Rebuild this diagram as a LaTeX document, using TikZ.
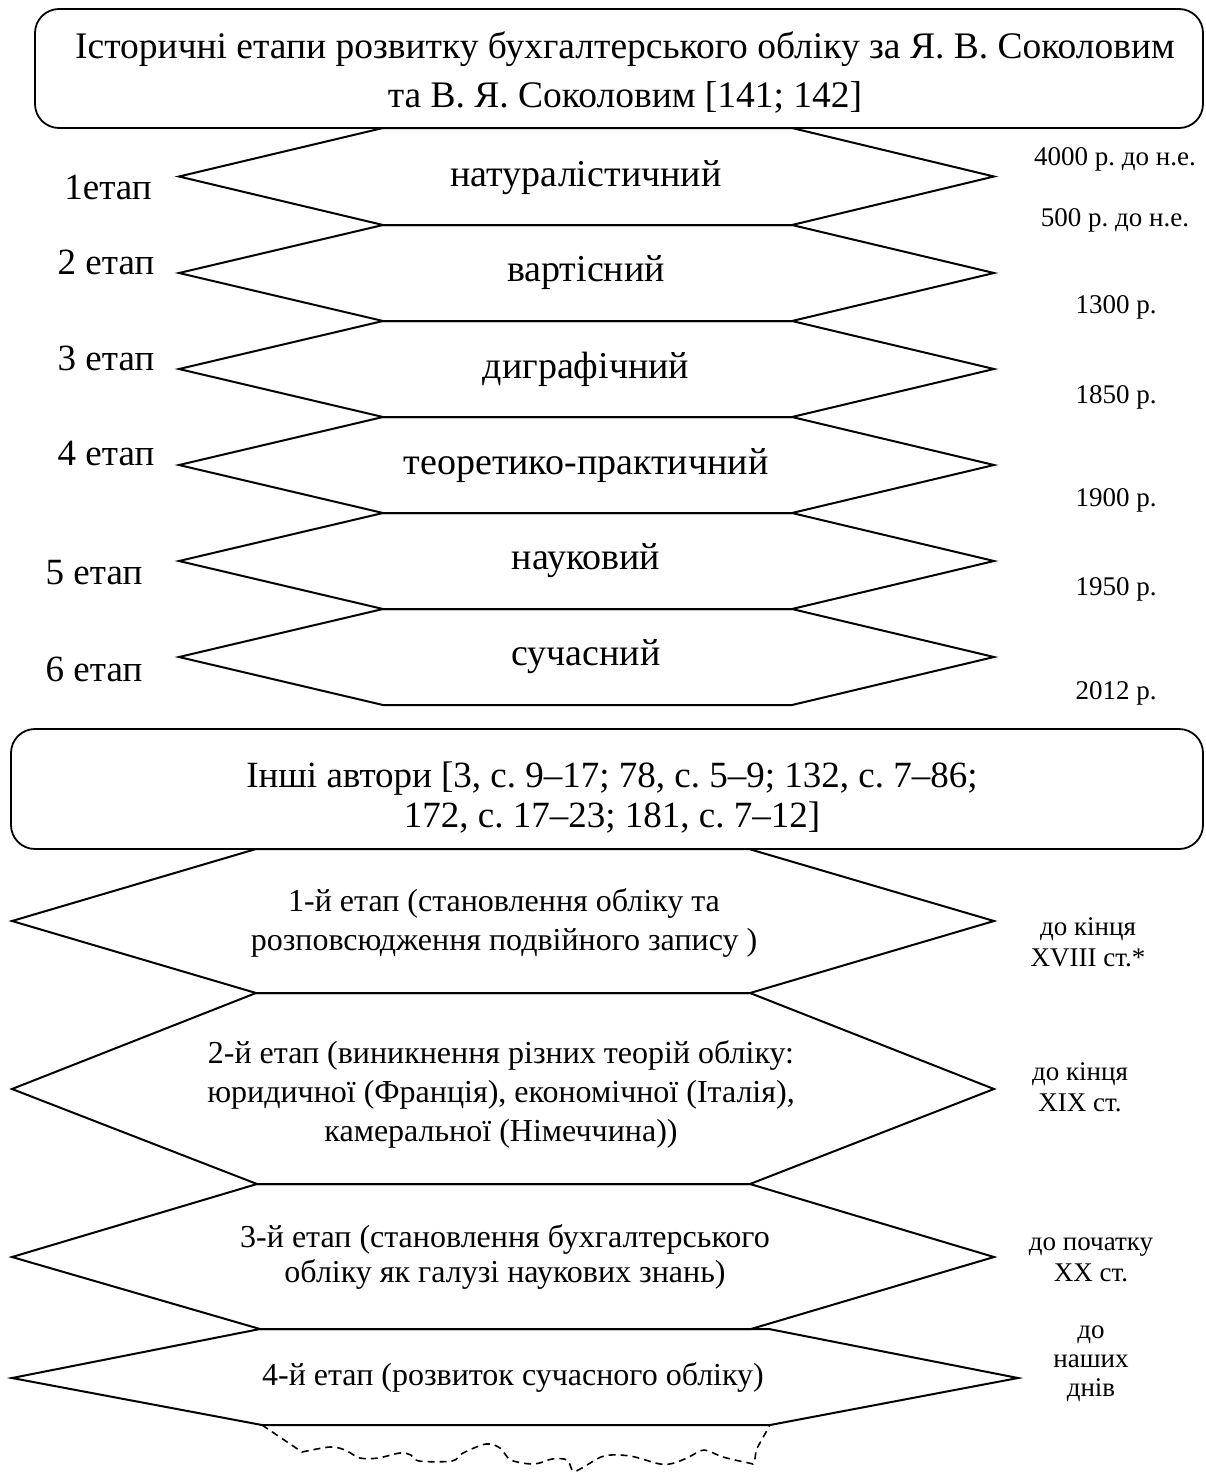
\documentclass[tikz,border=0pt]{standalone}
\usepackage{fontspec}
\setmainfont{Liberation Serif}
\frenchspacing
\begin{document}
\begin{tikzpicture}[x=1pt,y=-1pt,
  hexline/.style={draw, line width=2pt, line join=miter},
  roundbox/.style={draw, line width=1.8pt, rounded corners=24pt, inner sep=0pt},
  titletext/.style={inner sep=0pt, align=center, font=\fontsize{37.5}{49}\selectfont},
  stagetext/.style={inner sep=0pt, font=\fontsize{38}{44}\selectfont},
  etaptext/.style={inner sep=0pt, font=\fontsize{37}{44}\selectfont},
  datetext/.style={inner sep=0pt, font=\fontsize{27}{31}\selectfont},
  lowtext/.style={inner sep=0pt, align=center, font=\fontsize{32}{39}\selectfont},
  sidetext/.style={inner sep=0pt, align=center, font=\fontsize{27}{31}\selectfont},
  wave/.style={draw, line width=1.6pt, dash pattern=on 7pt off 5pt}]
\useasboundingbox (0,0) rectangle (1205,1472);

% ---------- header box ----------
\node[roundbox, minimum width=1168pt, minimum height=119pt] (title) at (619,68.5) {};
\node[titletext] (titletxt) at (625,72)
  {Історичні етапи розвитку бухгалтерського обліку за Я. В. Соколовим\\
   та В. Я. Соколовим [141; 142]};

% ---------- six stages (Sokolov) ----------
\foreach \yt/\yb in {128/225,225/321,321/417,417/513,513/609,609/705}{
  \path[hexline] (383,\yt) -- (792,\yt) -- (994,{(\yt+\yb)/2}) -- (792,\yb)
     -- (383,\yb) -- (179,{(\yt+\yb)/2}) -- cycle;
}

\node[stagetext] (s1) at (586,178) {натуралістичний};
\node[stagetext] (s2) at (586,273) {вартісний};
\node[stagetext] (s3) at (586,369) {диграфічний};
\node[stagetext] (s4) at (586,466) {теоретико-практичний};
\node[stagetext] (s5) at (586,561) {науковий};
\node[stagetext] (s6) at (586,657) {сучасний};

\node[etaptext] (e1) at (108,187) {1етап};
\node[etaptext] (e2) at (106,262) {2 етап};
\node[etaptext] (e3) at (106,358) {3 етап};
\node[etaptext] (e4) at (106,453) {4 етап};
\node[etaptext] (e5) at (94,573) {5 етап};
\node[etaptext] (e6) at (94,669) {6 етап};

\node[datetext] (d1) at (1115,159) {4000 р. до н.е.};
\node[datetext] (d2) at (1115,220) {500 р. до н.е.};
\node[datetext] (d3) at (1116,307) {1300 р.};
\node[datetext] (d4) at (1116,397) {1850 р.};
\node[datetext] (d5) at (1116,500) {1900 р.};
\node[datetext] (d6) at (1116,589) {1950 р.};
\node[datetext] (d7) at (1116,693) {2012 р.};

% ---------- second box ----------
\node[roundbox, minimum width=1192pt, minimum height=120pt] (others) at (607,789) {};
\node[titletext, font=\fontsize{37}{40}\selectfont] (otherstxt) at (612,797)
  {Інші автори [3, с. 9–17; 78, с. 5–9; 132, с. 7–86;\\
   172, с. 17–23; 181, с. 7–12]};

% ---------- four stages (other authors) ----------
\path[hexline] (256,849) -- (749,849) -- (994,921) -- (750,993) -- (256,993) -- (12,921) -- cycle;
\path[hexline] (256,993) -- (750,993) -- (994,1089) -- (750,1184) -- (257,1184) -- (12,1089) -- cycle;
\path[hexline] (257,1184) -- (750,1184) -- (994,1257) -- (751,1329) -- (260,1329) -- (12,1257) -- cycle;
\path[hexline] (260,1329) -- (769,1329) -- (1018,1378) -- (770,1425) -- (262,1425) -- (12,1378) -- cycle;

\coordinate (wl) at (262,1425);
\coordinate (wr) at (770,1425);

\node[lowtext] (o1) at (504,923)
  {1-й етап (становлення обліку та\\ розповсюдження подвійного запису )};
\node[lowtext] (o2) at (501,1094)
  {2-й етап (виникнення різних теорій обліку:\\
   юридичної (Франція), економічної (Італія),\\
   камеральної (Німеччина))};
\node[lowtext, font=\fontsize{32}{35}\selectfont] (o3) at (505,1257)
  {3-й етап (становлення бухгалтерського\\ обліку як галузі наукових знань)};
\node[lowtext] (o4) at (513,1377) {4-й етап (розвиток сучасного обліку)};

\node[sidetext] (p1) at (1088,942) {до кінця\\ XVIII ст.*};
\node[sidetext] (p2) at (1080,1087) {до кінця\\ XIX ст.};
\node[sidetext] (p3) at (1091,1260) {до початку\\ XX ст.};
\node[sidetext, font=\fontsize{27}{29}\selectfont] (p4) at (1091,1364) {до\\ наших\\ днів};

% dashed wavy edge under the last stage
\path[wave] (wl) -- plot[smooth, tension=0.55] coordinates {
  (302,1452) (330,1447) (345,1450) (360,1458) (378,1458) (400,1453)
  (411,1455) (419,1461) (452,1461) (463,1453) (486,1444) (500,1448)
  (511,1460) (534,1464) (552,1459) (567,1460) (573,1471) (582,1468)
  (604,1456) (630,1456) (660,1464) (674,1463) (689,1457) (704,1450)
  (723,1457) (749,1463) (754,1463) (756,1450)} -- (wr);
\end{tikzpicture}
\end{document}
